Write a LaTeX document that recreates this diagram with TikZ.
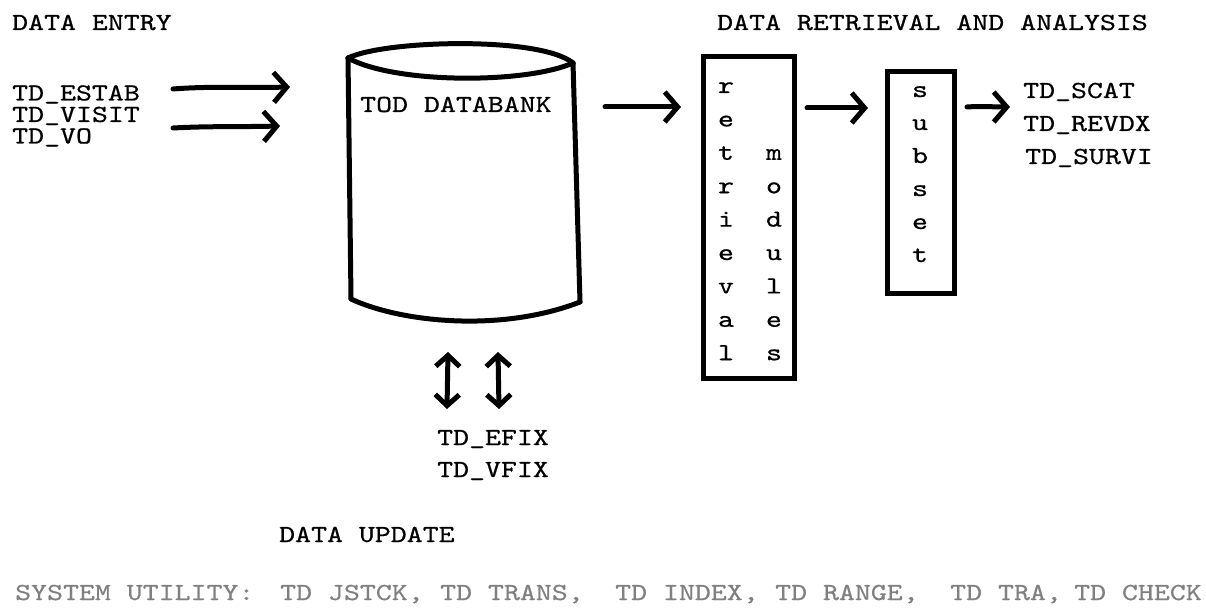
\documentclass[tikz,border=0pt]{standalone}
\usepackage{fontspec}
\newfontfamily\tw{lmmono10-regular.otf}[FakeStretch=1.24,FakeBold=0.6]
\usetikzlibrary{arrows.meta}
% typewriter underscore that adds no depth to its line
\newcommand{\tus}{\smash{\raisebox{1pt}{\_}}}

\begin{document}
\begin{tikzpicture}[x=1pt,y=-1pt,
  txt/.style={anchor=base west, inner sep=0pt, font=\tw\fontsize{24.5}{26}\selectfont},
  ltr/.style={anchor=base, inner sep=0pt, font=\tw\fontsize{24.5}{26}\selectfont},
  faded/.style={txt, text=black!50},
  ink/.style={line width=5pt, line cap=round, line join=round},
  flow/.style={ink, -{Straight Barb[length=13pt,width=30pt]}},
  twoway/.style={ink, {Straight Barb[length=11pt,width=24pt]}-{Straight Barb[length=11pt,width=24pt]}},
  panel/.style={draw, line width=5pt, inner sep=0pt},
]
\useasboundingbox (0,0) rectangle (1206,612);

% headings
\node[txt] (hentry) at (12,30) {DATA ENTRY};
\node[txt] (hret) at (717,30) {DATA RETRIEVAL AND ANALYSIS};
\node[txt] (hupd) at (279,542) {DATA UPDATE};

% system utility line
\node[faded] (util) at (15,600) {SYSTEM UTILITY:};
\node[faded] (ut1) at (280,600) {TD JSTCK,};
\node[faded] (ut2) at (440,600) {TD TRANS,};
\node[faded] (ut3) at (615,600) {TD INDEX,};
\node[faded] (ut4) at (775,600) {TD RANGE,};
\node[faded] (ut5) at (950,600) {TD TRA,};
\node[faded] (ut6) at (1074,600) {TD CHECK};

% entry programs, typed as one tight block
\node[txt, anchor=north west, align=left,
      font=\tw\fontsize{24.5}{21.5}\selectfont] (ins) at (12,85)
  {TD\tus ESTAB\\TD\tus VISIT\\TD\tus VO};

% databank cylinder
\coordinate (tl) at (348,58);
\coordinate (tr) at (573,63);
\coordinate (bl) at (351,299);
\coordinate (br) at (580,302);
\draw[ink] (tl) .. controls (385,40) and (540,36) .. (tr);
\draw[ink] (tl) .. controls (395,84) and (525,84) .. (tr);
\draw[ink] (tl) -- (bl);
\draw[ink] (tr) -- (br);
\draw[ink] (bl) .. controls (400,322) and (500,333) .. (br);
\node[txt] (db) at (360,112) {TOD DATABANK};

% retrieval modules box
\node[panel, minimum width=91pt, minimum height=321pt] (ret) at (748.5,217.5) {};
\foreach \c [count=\i] in {r,e,t,r,i,e,v,a,l}
  \node[ltr] (rv\i) at (726,{93+33.4*(\i-1)}) {\c};
\foreach \c [count=\i] in {m,o,d,u,l,e,s}
  \node[ltr] (md\i) at (774,{93+33.4*(\i+1)}) {\c};

% subset box
\node[panel, minimum width=67pt, minimum height=221pt] (sub) at (920.5,182.5) {};
\foreach \c [count=\i] in {s,u,b,s,e,t}
  \node[ltr] (sb\i) at (920,{97+33*(\i-1)}) {\c};

% analysis programs
\node[txt] (out1) at (1023,98) {TD\tus SCAT};
\node[txt] (out2) at (1023,131) {TD\tus REVDX};
\node[txt] (out3) at (1025,164) {TD\tus SURVI};

% update programs
\node[txt] (fix1) at (437,445) {TD\tus EFIX};
\node[txt] (fix2) at (437,477) {TD\tus VFIX};

% connector end points
\coordinate (a1s) at (173,89);
\coordinate (a1e) at (290,87);
\coordinate (a2s) at (173,128);
\coordinate (a2e) at (280,126);
\coordinate (a3s) at (605,107);
\coordinate (a3e) at (681,107);
\coordinate (a4s) at (807,108);
\coordinate (a4e) at (868,108);
\coordinate (a5s) at (967,107);
\coordinate (a5e) at (1010,107);
\coordinate (u1t) at (448,352);
\coordinate (u1b) at (447,409);
\coordinate (u2t) at (498,352);
\coordinate (u2b) at (499,409);

% flows
\draw[flow] (a1s) .. controls (210,86) and (250,88) .. (a1e);
\draw[flow] (a2s) .. controls (210,126) and (240,127) .. (a2e);
\draw[flow] (a3s) -- (a3e);
\draw[flow] (a4s) -- (a4e);
\draw[flow] (a5s) .. controls (980,106) and (995,107) .. (a5e);
\draw[twoway] (u1t) -- (u1b);
\draw[twoway] (u2t) -- (u2b);
\end{tikzpicture}
\end{document}
